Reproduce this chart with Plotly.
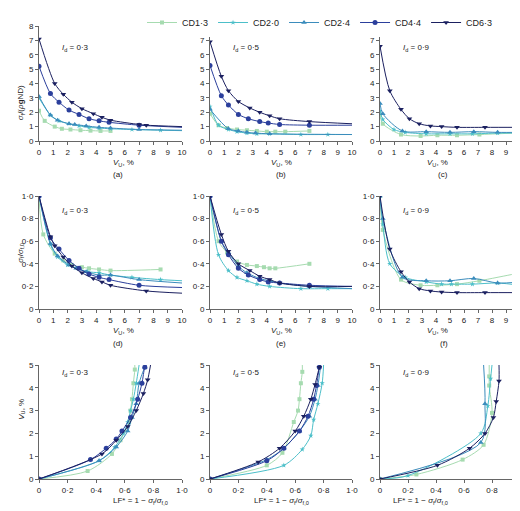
import plotly.graph_objects as go

series = ["CD1·3", "CD2·0", "CD2·4", "CD4·4", "CD6·3"]
colors = ["#a6dbb0", "#4cbfc9", "#3b8cbc", "#2b3f9c", "#1b2060"]
symbols = ["square", "star", "triangle-up", "circle", "triangle-down"]
msizes = [4, 4, 5, 5, 5]
id_labels = ["0·3", "0·5", "0·9"]
panel_letters = ["(a)", "(b)", "(c)", "(d)", "(e)", "(f)", "(g)", "(h)", "(i)"]

# each entry: (x points, y points, tail point for the fitted curve or None)
a = {
 "CD1·3": ([0,0.4,1.1,1.6,2.2,2.9,3.6,4.3,5],[2.1,1.4,1.0,0.85,0.8,0.75,0.72,0.7,0.7],None),
 "CD2·0": ([0,0.8,1.4,2.1,2.8,3.5,4.2,5,6.5,8.5],[3.0,1.8,1.4,1.2,1.05,0.95,0.9,0.85,0.8,0.75],(10,0.72)),
 "CD2·4": ([0,0.8,1.3,2.1,2.5,3.3,4.2,5,7],[3.1,1.8,1.45,1.2,1.15,1.05,0.95,0.9,0.8],(10,0.75)),
 "CD4·4": ([0,0.8,1.4,2.1,2.8,3.5,4.2,4.9,7],[5.2,3.3,2.7,2.15,1.85,1.55,1.4,1.3,1.1],(10,0.95)),
 "CD6·3": ([0,1.1,1.7,2.3,3,3.8,4.4,5,7,7.5],[7.1,4.0,3.25,2.7,2.25,1.9,1.65,1.45,1.15,1.1],(10,1.0)),
}
b = {
 "CD1·3": ([0,0.6,1.2,1.9,2.6,3.3,4,4.6,5.3,7],[1.9,1.1,0.9,0.8,0.75,0.7,0.65,0.65,0.65,0.7],None),
 "CD2·0": ([0,0.6,1.3,1.9,2.6,3.3,4.2,6.4,8.3],[2.4,1.1,0.8,0.65,0.55,0.5,0.5,0.45,0.45],(10,0.45)),
 "CD2·4": ([0,1.3,2,2.6,3.2,4.2],[2.2,0.85,0.7,0.6,0.55,0.5],(10,0.45)),
 "CD4·4": ([0,0.8,1.3,2,2.7,3.5,4.1,4.9,7],[5.25,3.15,2.5,1.85,1.55,1.35,1.25,1.15,1.1],(10,1.1)),
 "CD6·3": ([0,0.8,1.3,2,2.8,3.5,4.2,4.9,7],[6.9,4.5,3.5,2.75,2.3,2.0,1.75,1.55,1.35],(10,1.2)),
}
c = {
 "CD1·3": ([0,0.2,1.5,2.9,4.1,5.5,7.1,9.6],[1.8,1.2,0.45,0.35,0.4,0.4,0.45,0.55],None),
 "CD2·0": ([0,0.2,1.0,1.8,3.3,5,6.6,8.4,9.8],[2.1,1.5,0.8,0.6,0.5,0.5,0.5,0.55,0.55],None),
 "CD2·4": ([0,0.2,1.6,3.3,5,6.7,8.4],[2.6,1.9,0.7,0.65,0.6,0.65,0.6],(10,0.6)),
 "CD6·3": ([0,0.7,1.5,2.1,2.8,3.6,4.4,5.5,7.5,10],[6.6,3.5,2.2,1.55,1.2,1.05,1.0,0.95,0.95,0.95],None),
}
d = {
 "CD1·3": ([0,0.3,1.1,1.7,2.3,3,3.5,4.2,5,8.5],[1,0.66,0.49,0.43,0.39,0.37,0.36,0.35,0.34,0.35],None),
 "CD2·0": ([0,0.8,1.3,2,2.7,3.4,4.2,5,6.5,8.5],[1,0.57,0.46,0.39,0.36,0.33,0.32,0.3,0.28,0.26],(10,0.25)),
 "CD2·4": ([0,0.8,1.3,2.1,2.6,3.3,4.2,5,7],[1,0.58,0.47,0.39,0.36,0.33,0.3,0.3,0.26],(10,0.23)),
 "CD4·4": ([0,0.8,1.4,2.1,2.8,3.5,4.2,4.9,7],[1,0.63,0.53,0.43,0.36,0.31,0.28,0.26,0.21],(10,0.19)),
 "CD6·3": ([0,0.8,1.1,1.7,2.3,3,3.8,4.4,5,7.5],[1,0.64,0.56,0.46,0.38,0.32,0.27,0.24,0.21,0.16],(10,0.14)),
}
e = {
 "CD1·3": ([0,0.6,1.2,1.9,2.6,3.3,3.8,4.2,4.6,7],[1,0.6,0.5,0.42,0.39,0.38,0.37,0.36,0.36,0.4],None),
 "CD2·0": ([0,0.6,1.3,1.9,2.6,3.3,4.2,6.4,8.3],[1,0.48,0.34,0.28,0.25,0.22,0.2,0.18,0.18],(10,0.18)),
 "CD2·4": ([0,0.8,1.3,2,2.6,3.5,4.2,4.9,7],[1,0.6,0.5,0.38,0.32,0.27,0.25,0.23,0.2],(10,0.18)),
 "CD4·4": ([0,0.8,1.3,2,2.7,3.5,4.1,4.9,7],[1,0.6,0.48,0.36,0.3,0.26,0.24,0.23,0.21],(10,0.2)),
 "CD6·3": ([0,0.8,1.3,2,2.8,3.5,4.2,4.9,7],[1,0.66,0.51,0.4,0.34,0.29,0.26,0.23,0.2],(10,0.2)),
}
f = {
 "CD1·3": ([0,0.2,1.5,2.9,4.1,5.5,7.1,9.6],[1,0.7,0.26,0.21,0.21,0.22,0.25,0.31],(10,0.32)),
 "CD2·0": ([0,0.2,0.7,1.8,3.3,4.4,5.1,6.6,8.4],[1,0.75,0.4,0.28,0.24,0.22,0.22,0.22,0.23],(10,0.21)),
 "CD2·4": ([0,0.2,1.6,3.3,5,6.7,8.4],[1,0.8,0.28,0.25,0.25,0.27,0.23],(10,0.24)),
 "CD6·3": ([0,0.7,1.5,2.1,2.8,3.6,4.4,5.5,7.5,10],[1,0.53,0.33,0.24,0.18,0.16,0.15,0.145,0.145,0.145],None),
}
g = {
 "CD1·3": ([0,0.34,0.51,0.57,0.63,0.64,0.65,0.66,0.67],[0,0.35,1.1,1.7,2.5,3.0,3.5,4.2,4.8],(0.67,5)),
 "CD2·0": ([0,0.42,0.53,0.59,0.62,0.64,0.66,0.68],[0,0.8,1.4,2.0,2.5,3.0,3.5,4.2],(0.70,5)),
 "CD2·4": ([0,0.42,0.54,0.62,0.65,0.68,0.7,0.74],[0,0.8,1.4,2.1,2.7,3.3,4.2,4.9],(0.75,5)),
 "CD4·4": ([0,0.36,0.47,0.54,0.58,0.64,0.69,0.72,0.74],[0,0.85,1.35,1.75,2.1,2.7,3.5,4.2,4.9],(0.75,5)),
 "CD6·3": ([0,0.44,0.54,0.62,0.68,0.73,0.76],[0,1.1,1.7,2.3,3.0,3.75,4.35],(0.78,5)),
}
h = {
 "CD1·3": ([0,0.4,0.51,0.59,0.62,0.63,0.64,0.65],[0,0.6,1.15,2.5,3.0,3.5,4.2,4.7],(0.65,5)),
 "CD2·0": ([0,0.52,0.65,0.71,0.73,0.76,0.79],[0,0.6,1.3,1.9,2.6,3.3,4.2],(0.8,5)),
 "CD2·4": ([0,0.4,0.52,0.63,0.7,0.74,0.76],[0,0.85,1.35,2.1,2.75,3.5,4.1],(0.78,5)),
 "CD4·4": ([0,0.4,0.52,0.63,0.69,0.73,0.75,0.77],[0,0.8,1.35,2.1,2.75,3.5,4.1,4.9],(0.775,5)),
 "CD6·3": ([0,0.34,0.49,0.6,0.66,0.71,0.74,0.77],[0,0.75,1.35,2.1,2.75,3.5,4.15,4.9],(0.775,5)),
}
i = {
 "CD1·3": ([0,0.26,0.59,0.74,0.8,0.78,0.78],[0,0.2,0.85,1.5,2.9,4.1,4.5],(0.78,5)),
 "CD2·0": ([0,0.2,0.72,0.77,0.79],[0,0.15,2.0,3.2,4.4],(0.8,5)),
 "CD2·4": ([0,0.72,0.75],[0,1.6,3.3],(0.74,5)),
 "CD6·3": ([0,0.41,0.64,0.75,0.81,0.83,0.85],[0,0.6,1.35,2.0,2.7,3.4,4.3],(0.85,5)),
}
panels = [a, b, c, d, e, f, g, h, i]

xdom = [[31/520, 174/520], [202/520, 344/520], [372/520, 512/520]]
ydom = [[1-133/511, 1-18/511], [1-301/511, 1-188/511], [1-471/511, 1-357/511]]

fig = go.Figure()
font = dict(family="Liberation Sans, Arial", size=8, color="#222")
dot = lambda v: f"{v:.1f}".replace(".", "·")
annotations = []
for k, pdata in enumerate(panels):
    r, col = divmod(k, 3)
    n = k + 1
    xa = "x" if n == 1 else f"x{n}"
    ya = "y" if n == 1 else f"y{n}"
    for si, s in enumerate(series):
        if s not in pdata:
            continue
        xs, ys, tail = pdata[s]
        lx, ly = list(xs), list(ys)
        if tail:
            lx.append(tail[0]); ly.append(tail[1])
        fig.add_trace(go.Scatter(x=lx, y=ly, mode="lines", line=dict(color=colors[si], width=1, shape="spline", smoothing=0.8),
                                 xaxis=xa, yaxis=ya, showlegend=False, hoverinfo="skip"))
        fig.add_trace(go.Scatter(x=xs, y=ys, mode="markers", marker=dict(color=colors[si], symbol=symbols[si], size=msizes[si]),
                                 xaxis=xa, yaxis=ya, showlegend=False))
    ax = dict(domain=xdom[col], anchor=ya, showgrid=False, zeroline=False, showline=True, linecolor="#666", linewidth=1,
              ticks="outside", ticklen=3, tickcolor="#666", tickfont=font, automargin=False)
    ay = dict(domain=ydom[r], anchor=xa, showgrid=False, zeroline=False, showline=True, linecolor="#666", linewidth=1,
              ticks="outside", ticklen=3, tickcolor="#666", tickfont=font, automargin=False)
    if r < 2:
        ax.update(range=[0, 10], tickvals=list(range(11)))
        if r == 0:
            ay.update(range=[0, 8], tickvals=list(range(9)))
        else:
            tv = [0, 0.2, 0.4, 0.6, 0.8, 1.0]
            ay.update(range=[0, 1.0], tickvals=tv, ticktext=["0"] + [dot(v) for v in tv[1:]])
        xt = "<i>V</i><sub>U</sub>, %"
    else:
        tv = [0, 0.2, 0.4, 0.6, 0.8, 1.0]
        ax.update(range=[0, 1.0], tickvals=tv, ticktext=["0"] + [dot(v) for v in tv[1:]])
        ay.update(range=[0, 5], tickvals=list(range(6)))
        xt = "LF* = 1 − <i>σ</i><sub>f</sub>/<i>σ</i><sub>f,0</sub>"
    fig.update_layout({("xaxis" if n == 1 else f"xaxis{n}"): ax, ("yaxis" if n == 1 else f"yaxis{n}"): ay})
    xc = (xdom[col][0] + xdom[col][1]) / 2
    annotations.append(dict(text=xt, x=xc, y=ydom[r][0] - 22/511, xref="paper", yref="paper", showarrow=False, font=font, yanchor="middle"))
    annotations.append(dict(text=panel_letters[k], x=xc, y=ydom[r][0] - 34/511, xref="paper", yref="paper", showarrow=False, font=font, yanchor="middle"))
    annotations.append(dict(text=f"<i>I</i><sub>d</sub> = {id_labels[col]}", x=xdom[col][0] + 0.04, y=ydom[r][1] - 0.03,
                            xref="paper", yref="paper", showarrow=False, font=font, xanchor="left"))

ytitles = ["<i>σ</i><sub>f</sub>/(<i>ρ</i><b>g</b>ND)", "<i>σ</i><sub>f</sub>/<i>σ</i><sub>f,0</sub>", "<i>V</i><sub>U</sub>, %"]
for r in range(3):
    annotations.append(dict(text=ytitles[r], x=0.012, y=(ydom[r][0] + ydom[r][1]) / 2, xref="paper", yref="paper",
                            showarrow=False, font=font, textangle=-90))

for si, s in enumerate(series):
    fig.add_trace(go.Scatter(x=[None], y=[None], mode="lines+markers", name=s,
                             line=dict(color=colors[si], width=1), marker=dict(color=colors[si], symbol=symbols[si], size=msizes[si])))

fig.update_layout(width=520, height=511, margin=dict(l=0, r=0, t=0, b=0, autoexpand=False), plot_bgcolor="white", paper_bgcolor="white",
                  font=font, annotations=annotations,
                  legend=dict(orientation="h", x=0.6, xanchor="center", y=1.0, yanchor="top", font=dict(family="Liberation Sans, Arial", size=9),
                              itemwidth=30, tracegroupgap=0))
fig.write_html("out.html")
